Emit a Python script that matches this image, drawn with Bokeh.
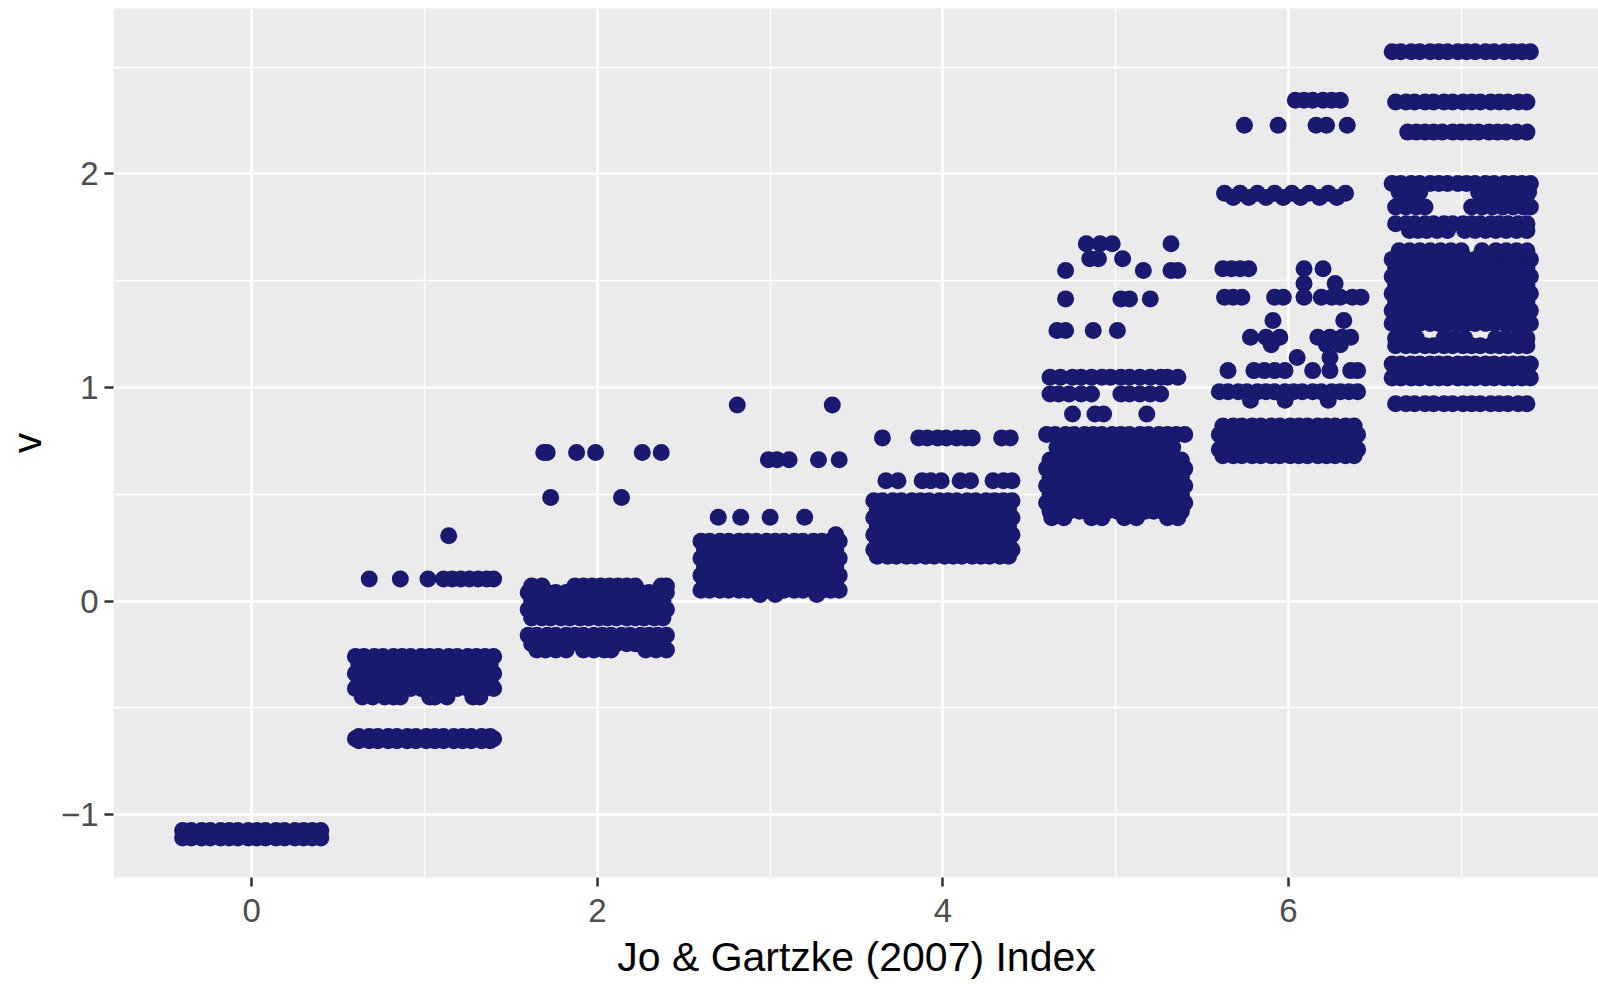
from bokeh.plotting import figure
from bokeh.models import FixedTicker, ColumnDataSource, Range1d
from bokeh.embed import file_html
from bokeh.resources import INLINE

# ---------------- data ----------------
groups = [0, 1, 2, 3, 4, 5, 6, 7]
x_ticks = [0, 2, 4, 6]
x_minor = [1, 3, 5, 7]
y_ticks = [-1, 0, 1, 2]
y_minor = [-0.5, 0.5, 1.5, 2.5]
x_title = "Jo & Gartzke (2007) Index"
y_title = "v"

# hand-read horizontal jitter offsets of the dense rows (alternated per row)
jit_a = [-0.40, -0.35, -0.29, -0.24, -0.18, -0.13, -0.08, -0.02, 0.03, 0.08, 0.14, 0.19, 0.25, 0.30, 0.35, 0.40]
jit_b = [-0.38, -0.32, -0.27, -0.21, -0.16, -0.10, -0.05, 0.01, 0.06, 0.11, 0.17, 0.22, 0.27, 0.33, 0.38]

# v-levels of densely filled rows, per index value
g0_dense = [-1.075, -1.095, -1.11]
g1_dense = [-0.26, -0.30, -0.34, -0.38, -0.41, -0.635, -0.645, -0.655]
g2_dense = [0.04, 0.00, -0.04, -0.08, -0.16, -0.20]
g3_dense = [0.28, 0.24, 0.20, 0.16, 0.12, 0.08, 0.05]
g4_dense = [0.47, 0.43, 0.39, 0.35, 0.31, 0.27, 0.24, 0.21]
g5_dense = [0.78, 0.66, 0.62, 0.58, 0.54, 0.50, 0.46, 0.42]
g6_dense = [0.98, 0.82, 0.78, 0.75, 0.71, 0.68]
g7_dense = [2.572, 2.337, 1.955, 1.767, 1.60, 1.56, 1.52, 1.48, 1.44, 1.40,
            1.36, 1.33, 1.30, 1.196, 1.11, 1.075, 1.045, 0.924]

# sparse rows: v-level and the jittered index positions of its points
g0_rows_y = []
g0_rows_x = []
g1_rows_y = [0.306, 0.103, -0.45]
g1_rows_x = [[1.14],
             [0.68, 0.86, 1.02, 1.11, 1.16, 1.21, 1.26, 1.31, 1.36, 1.40],
             [0.64, 0.70, 0.77, 0.82, 0.86, 1.03, 1.06, 1.13, 1.28, 1.32]]
g2_rows_y = [0.696, 0.485, 0.07, -0.23]
g2_rows_x = [[1.69, 1.71, 1.88, 1.99, 2.26, 2.37],
             [1.73, 2.14],
             [1.62, 1.68, 1.87, 1.92, 1.97, 2.02, 2.07, 2.12, 2.17, 2.22, 2.37, 2.40],
             [1.65, 1.70, 1.76, 1.82, 1.92, 1.98, 2.04, 2.08, 2.28, 2.34, 2.40]]
g3_rows_y = [0.918, 0.662, 0.392, 0.31, 0.03]
g3_rows_x = [[2.81, 3.36],
             [2.99, 3.04, 3.11, 3.28, 3.40],
             [2.70, 2.83, 3.00, 3.20],
             [3.38],
             [2.94, 3.03, 3.27]]
g4_rows_y = [0.764, 0.563]
g4_rows_x = [[3.65, 3.86, 3.91, 3.97, 4.02, 4.08, 4.13, 4.17, 4.34, 4.39],
             [3.67, 3.74, 3.88, 3.93, 3.99, 4.10, 4.16, 4.29, 4.35, 4.40]]
g5_rows_y = [1.673, 1.603, 1.548, 1.415, 1.267, 1.048, 0.97, 0.876, 0.72, 0.39]
g5_rows_x = [[4.83, 4.91, 4.98, 5.32],
             [4.85, 4.90, 5.04],
             [4.71, 5.16, 5.32, 5.36],
             [4.71, 5.03, 5.08, 5.20],
             [4.66, 4.71, 4.87, 5.01],
             [4.62, 4.68, 4.75, 4.80, 4.86, 4.92, 4.97, 5.03, 5.08, 5.14, 5.20, 5.26, 5.30, 5.36],
             [4.62, 4.67, 4.73, 4.80, 4.86, 5.03, 5.08, 5.14, 5.20, 5.26],
             [4.75, 4.88, 4.93, 5.18],
             [4.66, 4.72, 4.78, 4.84, 4.90, 4.96, 5.03, 5.09, 5.16, 5.22, 5.28, 5.33],
             [4.63, 4.70, 4.86, 4.92, 5.05, 5.12, 5.30, 5.36]]
g6_rows_y = [2.345, 2.228, 1.91, 1.89, 1.556, 1.487, 1.423, 1.314, 1.235, 1.20, 1.14, 1.079, 0.94]
g6_rows_x = [[6.04, 6.09, 6.14, 6.20, 6.25, 6.30],
             [5.745, 5.94, 6.16, 6.22, 6.34],
             [5.63, 5.72, 5.82, 5.92, 6.02, 6.12, 6.23, 6.33],
             [5.68, 5.77, 5.87, 5.97, 6.07, 6.18, 6.28],
             [5.62, 5.67, 5.72, 5.77, 6.09, 6.20],
             [6.09, 6.27],
             [5.63, 5.68, 5.73, 5.92, 5.97, 6.09, 6.19, 6.25, 6.30, 6.37, 6.42],
             [5.91, 6.32],
             [5.78, 5.87, 5.95, 6.17, 6.24, 6.31, 6.36],
             [5.90, 6.22, 6.30],
             [6.05, 6.24],
             [5.65, 5.80, 5.86, 5.92, 5.98, 6.14, 6.24, 6.36, 6.40],
             [5.78, 5.98, 6.23]]
g7_rows_y = [2.196, 1.915, 1.845, 1.735, 1.64, 1.23]
g7_rows_x = [[6.69, 6.74, 6.79, 6.84, 6.89, 6.95, 7.00, 7.05, 7.10, 7.16, 7.21, 7.26, 7.32, 7.38],
             [6.64, 6.70, 6.76, 7.10, 7.16, 7.22, 7.28, 7.34, 7.39],
             [6.62, 6.68, 6.74, 6.79, 7.06, 7.12, 7.18, 7.24, 7.30, 7.36, 7.40],
             [6.70, 6.75, 6.80, 6.86, 6.92, 7.02, 7.08, 7.14, 7.20, 7.26, 7.32, 7.38],
             [6.64, 6.70, 6.76, 6.82, 6.88, 6.94, 7.00, 7.12, 7.20, 7.26, 7.32, 7.38],
             [6.62, 6.68, 6.74, 6.90, 6.96, 7.02, 7.20, 7.26, 7.32, 7.38]]

dense = [g0_dense, g1_dense, g2_dense, g3_dense, g4_dense, g5_dense, g6_dense, g7_dense]
rows_y = [g0_rows_y, g1_rows_y, g2_rows_y, g3_rows_y, g4_rows_y, g5_rows_y, g6_rows_y, g7_rows_y]
rows_x = [g0_rows_x, g1_rows_x, g2_rows_x, g3_rows_x, g4_rows_x, g5_rows_x, g6_rows_x, g7_rows_x]

# ---------------- assemble points ----------------
xs, ys = [], []
for g, levels, ry, rx in zip(groups, dense, rows_y, rows_x):
    for i, lv in enumerate(levels):
        offs = jit_a if i % 2 == 0 else jit_b
        for o in offs:
            xs.append(g + o)
            ys.append(lv)
    for lv, row in zip(ry, rx):
        for xv in row:
            xs.append(xv)
            ys.append(lv)

src = ColumnDataSource(data=dict(x=xs, y=ys))

FONT = "Liberation Sans"

p = figure(
    frame_width=1486, frame_height=869,
    x_range=Range1d(-0.80, 7.80), y_range=Range1d(-1.295, 2.775),
    output_backend="svg", toolbar_location=None,
    min_border_left=100, min_border_right=0, min_border_top=8, min_border_bottom=100,
    background_fill_color="#EBEBEB", border_fill_color="white",
)
p.outline_line_color = None

p.scatter("x", "y", source=src, size=17, color="#191970", line_color=None)

p.xaxis.ticker = FixedTicker(ticks=x_ticks, minor_ticks=x_minor)
p.yaxis.ticker = FixedTicker(ticks=y_ticks, minor_ticks=y_minor)
p.yaxis.major_label_overrides = {-1: "\u22121"}

for ax in (p.xaxis, p.yaxis):
    ax.axis_line_color = None
    ax.major_tick_line_color = "#333333"
    ax.major_tick_line_width = 2.5
    ax.major_tick_out = 9
    ax.major_tick_in = 0
    ax.minor_tick_line_color = None
    ax.major_label_text_font = FONT
    ax.major_label_text_font_size = "33px"
    ax.major_label_text_color = "#4D4D4D"
    ax.axis_label_text_font = FONT
    ax.axis_label_text_font_size = "41px"
    ax.axis_label_text_font_style = "normal"
    ax.axis_label_text_color = "black"

p.xaxis.major_label_standoff = 12
p.yaxis.major_label_standoff = 6
p.xaxis.axis_label = x_title
p.yaxis.axis_label = y_title
p.xaxis.axis_label_standoff = 9
p.yaxis.axis_label_standoff = 8

for gr in (p.xgrid, p.ygrid):
    gr.grid_line_color = "white"
    gr.grid_line_width = 2.7
    gr.minor_grid_line_color = "white"
    gr.minor_grid_line_width = 1.35

open("out.html", "w").write(file_html(p, INLINE))
